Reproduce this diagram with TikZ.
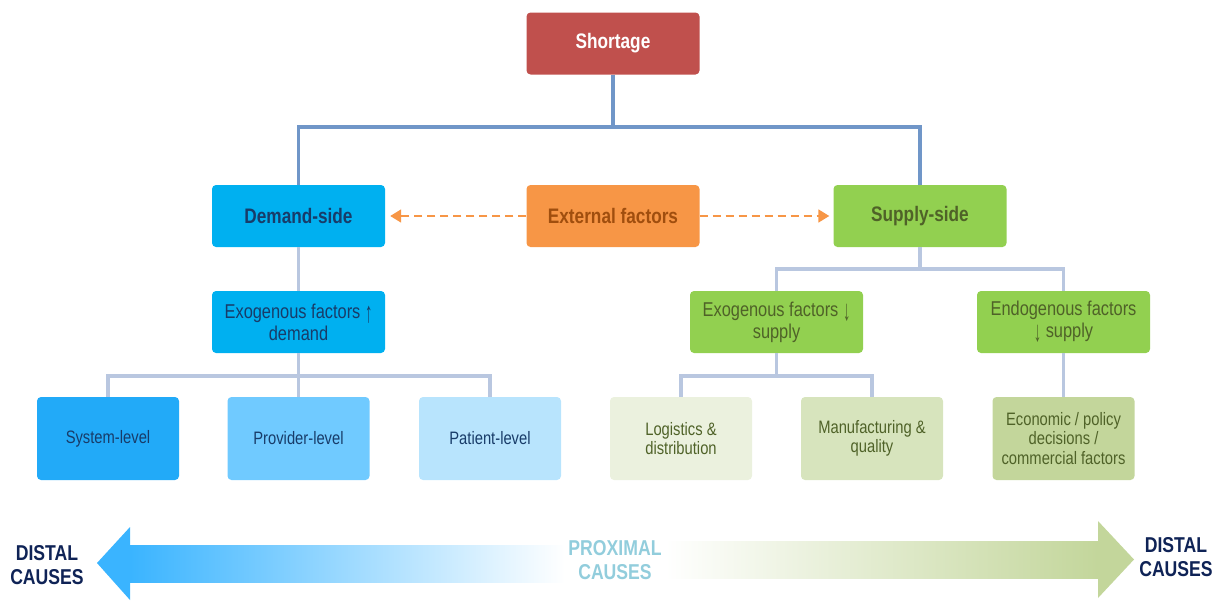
\documentclass[tikz,border=0pt]{standalone}
\usepackage{graphicx}
\usepackage{fontspec}
\setmainfont{Liberation Sans}[FakeStretch=0.82]
\usetikzlibrary{arrows.meta,positioning}
\definecolor{shred}{RGB}{192,80,77}
\definecolor{dmblue}{RGB}{0,176,240}
\definecolor{exorange}{RGB}{247,150,70}
\definecolor{exbrown}{RGB}{160,78,14}
\definecolor{spgreen}{RGB}{146,208,80}
\definecolor{navytx}{RGB}{24,60,105}
\definecolor{olivetx}{RGB}{79,98,40}
\definecolor{lvsys}{RGB}{34,170,248}
\definecolor{lvprov}{RGB}{112,202,255}
\definecolor{lvpat}{RGB}{184,228,253}
\definecolor{lvlog}{RGB}{235,241,222}
\definecolor{lvman}{RGB}{215,228,189}
\definecolor{lveco}{RGB}{195,214,155}
\definecolor{trunk}{RGB}{112,150,200}
\definecolor{twig}{RGB}{185,199,224}
\definecolor{distnavy}{RGB}{15,35,86}
\definecolor{proxtx}{RGB}{146,205,220}
\definecolor{arrblue}{RGB}{58,180,255}
\newcommand{\uparr}{\raisebox{-0.2em}{\scalebox{0.9}[1.45]{\char"2191}}}
\newcommand{\dnarr}{\raisebox{-0.2em}{\scalebox{0.9}[1.45]{\char"2193}}}

\begin{document}
\begin{tikzpicture}[x=1pt,y=-1pt,
        b/.style={rounded corners=4pt,minimum width=173pt,minimum height=62pt,
          align=center,inner sep=2pt,font=\fontsize{20}{22}\selectfont},
        hd/.style={b,font=\fontsize{21}{23}\selectfont\bfseries},
        lf/.style={b,minimum width=142pt,minimum height=83pt,
          font=\fontsize{18}{19.5}\selectfont},
        tr/.style={line width=3.5pt,draw=trunk},
        br/.style={line width=3.5pt,draw=twig},
        ex/.style={draw=exorange,line width=1.8pt,dash pattern=on 8pt off 5pt,
          -{Triangle[length=11pt,width=13pt]}},
        cz/.style={font=\fontsize{21.5}{24}\selectfont\bfseries,align=center}]
        \useasboundingbox (0,0) rectangle (1220,600);
        % tree of causes
        \node[hd,fill=shred,text=white] (short) at (613,43.5) {Shortage};
        \node[hd,fill=dmblue,text=navytx] (demand) at (298.5,216) {Demand-side};
        \node[hd,fill=exorange,text=exbrown] (ext) at (613,216) {External factors};
        \node[hd,fill=spgreen,text=olivetx] (supply) at (920,216) {Supply-side};
        \node[b,fill=dmblue,text=navytx] (exdem) at (298.5,322)
          {Exogenous factors \uparr\\demand};
        \node[b,fill=spgreen,text=olivetx] (exsup) at (776.5,322)
          {Exogenous factors \dnarr\\supply};
        \node[b,fill=spgreen,text=olivetx] (endo) at (1063.5,322)
          {Endogenous factors\\\dnarr{} supply};
        \node[lf,fill=lvsys,text=navytx] (sys) at (108,438.5) {System-level};
        \node[lf,fill=lvprov,text=navytx] (prov) at (298.5,438.5) {Provider-level};
        \node[lf,fill=lvpat,text=navytx] (pat) at (490,438.5) {Patient-level};
        \node[lf,fill=lvlog,text=olivetx] (logi) at (681,438.5) {Logistics \&\\distribution};
        \node[lf,fill=lvman,text=olivetx] (manu) at (872,438.5) {Manufacturing \&\\quality};
        \node[lf,fill=lveco,text=olivetx] (econ) at (1063.5,438.5)
          {Economic / policy\\decisions /\\commercial factors};
        \coordinate (j1) at (613,127);
        \coordinate (j2) at (920,269);
        \coordinate (j3) at (298.5,376);
        \coordinate (j4) at (776.5,376);
        \draw[tr] (short) -- (j1) -| (demand);
        \draw[tr] (j1) -| (supply);
        \draw[br] (demand) -- (exdem);
        \draw[br] (supply) -- (j2) -| (exsup);
        \draw[br] (j2) -| (endo);
        \draw[br] (exdem) -- (j3) -| (sys);
        \draw[br] (j3) -| (pat);
        \draw[br] (j3) -- (prov);
        \draw[br] (exsup) -- (j4) -| (logi);
        \draw[br] (j4) -| (manu);
        \draw[br] (endo) -- (econ);
        \draw[ex,shorten >=5pt] (ext) -- (demand);
        \draw[ex,shorten >=4pt] (ext) -- (supply);
        % proximal -> distal band
        \fill[arrblue] (97,563) -- (130,527) -- (130,600) -- cycle;
        \shade[left color=arrblue,right color=white] (130,545) rectangle (565,582);
        \shade[left color=white,right color=lveco] (665,541) rectangle (1098,578);
        \fill[lveco] (1098,521) -- (1134,559.5) -- (1098,598) -- cycle;
        \node[cz,text=distnavy] (dleft) at (47,565) {DISTAL\\CAUSES};
        \node[cz,text=distnavy] (dright) at (1176,557) {DISTAL\\CAUSES};
        \node[cz,text=proxtx] (prox) at (615,560) {PROXIMAL\\CAUSES};
      \end{tikzpicture}
\end{document}
